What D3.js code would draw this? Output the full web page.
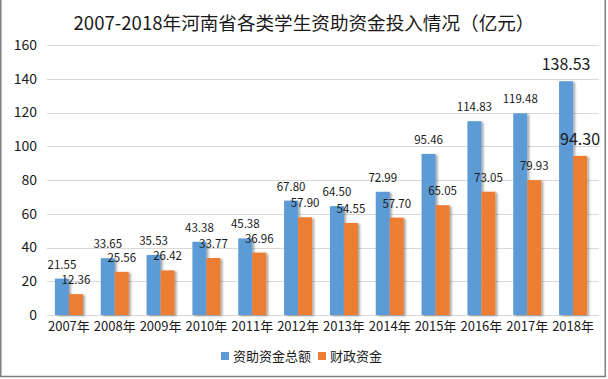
<!DOCTYPE html>
<html><head><meta charset="utf-8">
<script src="https://cdn.jsdelivr.net/npm/d3@7/dist/d3.min.js"></script>
<style>body{margin:0;background:#fff}svg{display:block}text{font-family:"Noto Sans CJK SC","Noto Sans",sans-serif}</style>
</head><body>
<svg id="c" width="608" height="379"></svg>
<script>
const categories = ["2007年","2008年","2009年","2010年","2011年","2012年","2013年","2014年","2015年","2016年","2017年","2018年"];
const totalFunds = [21.55,33.65,35.53,43.38,45.38,67.80,64.50,72.99,95.46,114.83,119.48,138.53];
const fiscalFunds = [12.36,25.56,26.42,33.77,36.96,57.90,54.55,57.70,65.05,73.05,79.93,94.30];
const seriesNames = ["资助资金总额","财政资金"];
const yTicks = [0,20,40,60,80,100,120,140,160];
const colors = ["#5B9BD5","#ED7D31"];

const svg = d3.select("#c");
const defs = svg.append("defs");
const f = defs.append("filter").attr("id","sh").attr("x","-30%").attr("y","-10%").attr("width","160%").attr("height","120%");
f.append("feDropShadow").attr("dx",2).attr("dy",1).attr("stdDeviation",1.3).attr("flood-color","#000").attr("flood-opacity",0.35);

// frame
svg.append("rect").attr("x",0.75).attr("y",-2).attr("width",604.5).attr("height",378.5).attr("fill","none").attr("stroke","#7f7f7f").attr("stroke-width",1.5);

const x = d3.scaleBand().domain(categories).range([46,596]);
const y = d3.scaleLinear().domain([0,160]).range([315,45]);
const bw = 14;

svg.append("text").attr("x",304).attr("y",30).attr("text-anchor","middle").attr("font-size",18.6).attr("fill","#1a1a1a")
  .text("2007-2018年河南省各类学生资助资金投入情况（亿元）");

// grid
svg.append("g").selectAll("line").data(yTicks).join("line")
  .attr("x1",47).attr("x2",599).attr("y1",d=>Math.round(y(d))+0.5).attr("y2",d=>Math.round(y(d))+0.5)
  .attr("stroke","#d9d9d9").attr("stroke-width",1);

// y axis labels
const yAxis = d3.axisLeft(y).tickValues(yTicks).tickSize(0).tickPadding(0);
const ya = svg.append("g").attr("transform","translate(37,0)").call(yAxis);
ya.select(".domain").remove();
ya.selectAll("text").attr("font-size",14).attr("fill","#1a1a1a").attr("font-family",'"Noto Sans CJK SC",sans-serif');

// x axis labels
const xAxis = d3.axisBottom(x).tickSize(0).tickPadding(0);
const xa = svg.append("g").attr("transform","translate(0,322)").call(xAxis);
xa.select(".domain").remove();
xa.selectAll("text").attr("font-size",13).attr("fill","#1a1a1a").attr("font-family",'"Noto Sans CJK SC",sans-serif');

const series = [totalFunds, fiscalFunds];
series.forEach((vals, si) => {
  const g = svg.append("g");
  g.selectAll("rect").data(vals).join("rect")
    .attr("x",(d,i)=>x(categories[i]) + x.bandwidth()/2 - bw + si*bw)
    .attr("y",d=>y(d)).attr("width",bw).attr("height",d=>y(0)-y(d))
    .attr("fill",colors[si]).attr("filter","url(#sh)");
});
series.forEach((vals, si) => {
  svg.append("g").selectAll("text").data(vals).join("text")
    .attr("x",(d,i)=>x(categories[i]) + x.bandwidth()/2 - bw/2 + si*bw)
    .attr("y",(d,i)=> y(d) - (i===11 ? 11 : 10))
    .attr("text-anchor","middle").attr("font-size",(d,i)=> i===11 ? 16 : 11.5)
    .attr("fill","#1a1a1a").text(d=>d.toFixed(2));
});

// legend
const leg = svg.append("g");
const lx = [221, 318];
seriesNames.forEach((n,i)=>{
  leg.append("rect").attr("x",lx[i]).attr("y",352).attr("width",8).attr("height",8).attr("fill",colors[i]);
  leg.append("text").attr("x",lx[i]+12).attr("y",361).attr("font-size",13).attr("fill","#1a1a1a").text(n);
});
</script>
</body></html>
